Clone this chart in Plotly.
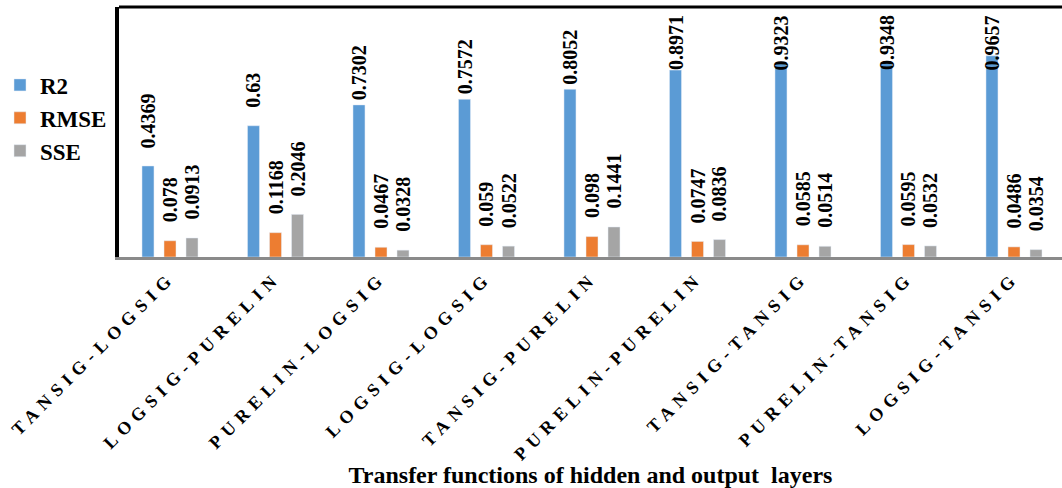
import plotly.graph_objects as go

# Transfer-function pairs (hidden-output) and their performance metrics
combos = ["TANSIG-LOGSIG", "LOGSIG-PURELIN", "PURELIN-LOGSIG", "LOGSIG-LOGSIG",
          "TANSIG-PURELIN", "PURELIN-PURELIN", "TANSIG-TANSIG", "PURELIN-TANSIG",
          "LOGSIG-TANSIG"]
r2 = [0.4369, 0.63, 0.7302, 0.7572, 0.8052, 0.8971, 0.9323, 0.9348, 0.9657]
rmse = [0.078, 0.1168, 0.0467, 0.059, 0.098, 0.0747, 0.0585, 0.0595, 0.0486]
sse = [0.0913, 0.2046, 0.0328, 0.0522, 0.1441, 0.0836, 0.0514, 0.0532, 0.0354]

series = [("R2", r2, "#5B9BD5"), ("RMSE", rmse, "#ED7D31"), ("SSE", sse, "#A5A5A5")]

SERIF = "Liberation Serif"
Y_MAX = 1.2
BARGAP = 0.374
BARGROUPGAP = 0.455
slot = (1 - BARGAP) / len(series)
LABEL_GAP = 16      # px between bar top and its value label
TALL_GAP = 3        # tall bars keep their labels tighter
TALL_FROM = 0.7
PIN_ABOVE = 0.85    # labels of the tallest bars are pinned below the frame top

pos = list(range(len(combos)))

fig = go.Figure()
annotations = []
for k, (name, vals, color) in enumerate(series):
    fig.add_trace(go.Bar(
        x=pos, y=vals, name=name, marker_color=color,
        legendgroup=name, hoverinfo="y",
    ))
    shift = (k - (len(series) - 1) / 2) * slot
    for i, v in enumerate(vals):
        label = dict(
            x=i + shift, text=f"{v:g}", textangle=-90, showarrow=False,
            font=dict(family=SERIF, size=20, color="black", weight="bold"),
            xref="x", yref="y",
        )
        if v > PIN_ABOVE:
            label.update(y=Y_MAX, yanchor="top", yshift=-6)
        else:
            gap = TALL_GAP if v >= TALL_FROM else LABEL_GAP
            label.update(y=v, yanchor="bottom", yshift=gap)
        annotations.append(label)

ticktext = [f'<span style="letter-spacing:6px">{c}</span>' for c in combos]

fig.update_layout(
    width=1062, height=488,
    margin=dict(l=119, r=0, t=7, b=231, autoexpand=False),
    paper_bgcolor="white", plot_bgcolor="white",
    barmode="group", bargap=BARGAP, bargroupgap=BARGROUPGAP,
    font=dict(family=SERIF, color="black"),
    annotations=annotations,
    showlegend=True,
    legend=dict(
        xref="container", yref="container", x=0.0, y=0.87,
        xanchor="left", yanchor="top",
        font=dict(family=SERIF, size=23, weight="bold", color="black"),
        tracegroupgap=12, traceorder="normal",
        bgcolor="rgba(0,0,0,0)",
    ),
    xaxis=dict(
        range=[-0.4834, 8.455], tickmode="array", tickvals=pos, ticktext=ticktext,
        tickangle=-45, ticks="", showgrid=False, zeroline=False, automargin=False,
        showline=True, linecolor="#8a8a8a", linewidth=3,
        tickfont=dict(family=SERIF, size=18, weight="bold", color="black"),
        title=dict(text="Transfer functions of hidden and output\u00a0 layers",
                   font=dict(family=SERIF, size=24, weight="bold", color="black"),
                   standoff=10),
    ),
    yaxis=dict(
        range=[0, Y_MAX], showticklabels=False, ticks="", showgrid=False,
        zeroline=False, automargin=False,
        showline=True, linecolor="black", linewidth=4,
    ),
    shapes=[dict(type="line", xref="paper", yref="paper", x0=0, x1=1, y0=1, y1=1,
                 line=dict(color="black", width=3))],
)

fig.write_html("out.html")
